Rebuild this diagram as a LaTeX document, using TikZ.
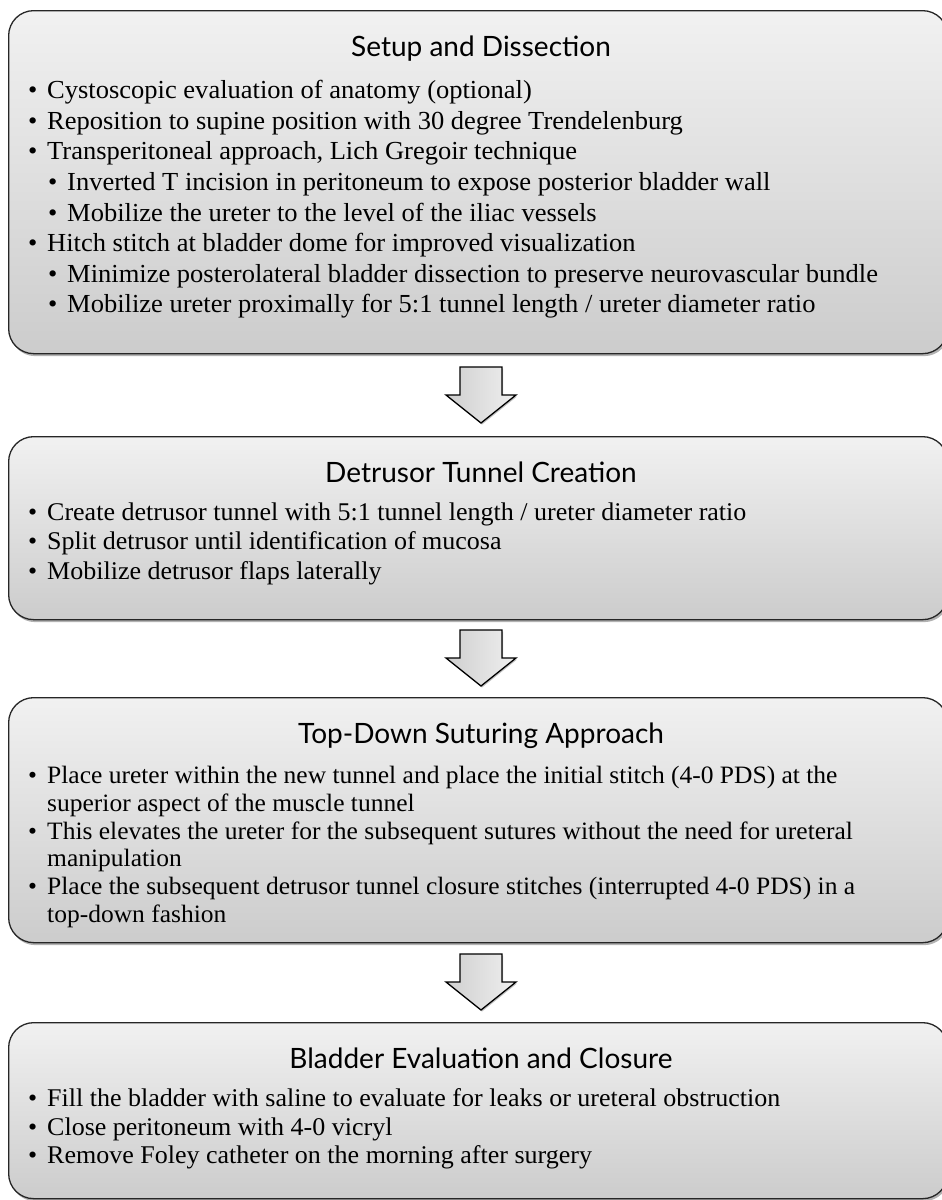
\documentclass[tikz,border=0pt]{standalone}
\usepackage{fontspec}
\setmainfont{Liberation Serif}[FakeStretch=1.02]
\newfontfamily\titlefont{Lato}
\usetikzlibrary{shadows}
\definecolor{boxtop}{HTML}{F1F1F1}
\definecolor{boxbot}{HTML}{CCCCCC}
\definecolor{arrL}{HTML}{CFCFCF}
\definecolor{arrR}{HTML}{EFEFEF}
\newcommand\bul{\makebox[19pt][l]{\textbullet}}
\tikzset{
  box/.style={draw=black!85, line width=1.3pt, rounded corners=25pt,
    top color=boxtop, bottom color=boxbot, anchor=north west,
    minimum width=939pt, inner sep=0pt,
    drop shadow={shadow xshift=1.5pt, shadow yshift=-2.5pt, opacity=0.3, fill=black}},
  ttl/.style={anchor=base, inner sep=0pt, font=\titlefont\fontsize{28}{30}\selectfont},
  item/.style={anchor=base west, inner sep=0pt, font=\fontsize{26}{30}\selectfont},
  itemb/.style={anchor=base west, inner sep=0pt, font=\fontsize{25.5}{30}\selectfont},
  itemsm/.style={anchor=base west, inner sep=0pt, font=\fontsize{25}{27}\selectfont},
  blk/.style={draw=black, line width=1.3pt, left color=arrL, right color=arrR, line join=miter,
    drop shadow={shadow xshift=1pt, shadow yshift=-1.5pt, opacity=0.25, fill=black}}
}
\newcommand\blkarrow[1]{%
  \path[blk] (460,#1) -- (502,#1) -- (502,#1+28) -- (516,#1+28) -- (481,#1+56)
    -- (446,#1+28) -- (460,#1+28) -- cycle;}
\begin{document}
\begin{tikzpicture}[x=1pt,y=-1pt]
\useasboundingbox (0,0) rectangle (942,1200);
\clip (0,0) rectangle (942,1200);
% boxes
\node[box, minimum height=343pt] (b1) at (8,10) {};
\node[box, minimum height=183pt] (b2) at (8,436) {};
\node[box, minimum height=245pt] (b3) at (8,697) {};
\node[box, minimum height=176pt] (b4) at (8,1022) {};
% arrows
\blkarrow{367}
\blkarrow{630}
\blkarrow{954}
% box 1
\node[ttl] (h1) at (481,56) {Setup and Dissection};
\node[item] (l11) at (28,98.5) {\bul Cystoscopic evaluation of anatomy (optional)};
\node[item] (l12) at (28,129) {\bul Reposition to supine position with 30 degree Trendelenburg};
\node[item] (l13) at (28,159.7) {\bul Transperitoneal approach, Lich Gregoir technique};
\node[item] (l14) at (48,190.3) {\bul Inverted T incision in peritoneum to expose posterior bladder wall};
\node[item] (l15) at (48,221) {\bul Mobilize the ureter to the level of the iliac vessels};
\node[item] (l16) at (28,251.5) {\bul Hitch stitch at bladder dome for improved visualization};
\node[item] (l17) at (48,282) {\bul Minimize posterolateral bladder dissection to preserve neurovascular bundle};
\node[item] (l18) at (48,312.7) {\bul Mobilize ureter proximally for 5:1 tunnel length / ureter diameter ratio};
% box 2
\node[ttl] (h2) at (481,482) {Detrusor Tunnel Creation};
\node[itemb] (l21) at (28,520) {\bul Create detrusor tunnel with 5:1 tunnel length / ureter diameter ratio};
\node[itemb] (l22) at (28,549.5) {\bul Split detrusor until identification of mucosa};
\node[itemb] (l23) at (28,579) {\bul Mobilize detrusor flaps laterally};
% box 3
\node[ttl] (h3) at (481,743) {Top-Down Suturing Approach};
\node[itemsm] (l31) at (28,783.5) {\bul Place ureter within the new tunnel and place the initial stitch (4-0 PDS) at the};
\node[itemsm] (l32) at (47,811) {superior aspect of the muscle tunnel};
\node[itemsm] (l33) at (28,839) {\bul This elevates the ureter for the subsequent sutures without the need for ureteral};
\node[itemsm] (l34) at (47,866.5) {manipulation};
\node[itemsm] (l35) at (28,894.3) {\bul Place the subsequent detrusor tunnel closure stitches (interrupted 4-0 PDS) in a};
\node[itemsm] (l36) at (47,922) {top-down fashion};
% box 4
\node[ttl] (h4) at (481,1068) {Bladder Evaluation and Closure};
\node[itemb] (l41) at (28,1106) {\bul Fill the bladder with saline to evaluate for leaks or ureteral obstruction};
\node[itemb] (l42) at (28,1135) {\bul Close peritoneum with 4-0 vicryl};
\node[itemb] (l43) at (28,1163) {\bul Remove Foley catheter on the morning after surgery};
\end{tikzpicture}
\end{document}
